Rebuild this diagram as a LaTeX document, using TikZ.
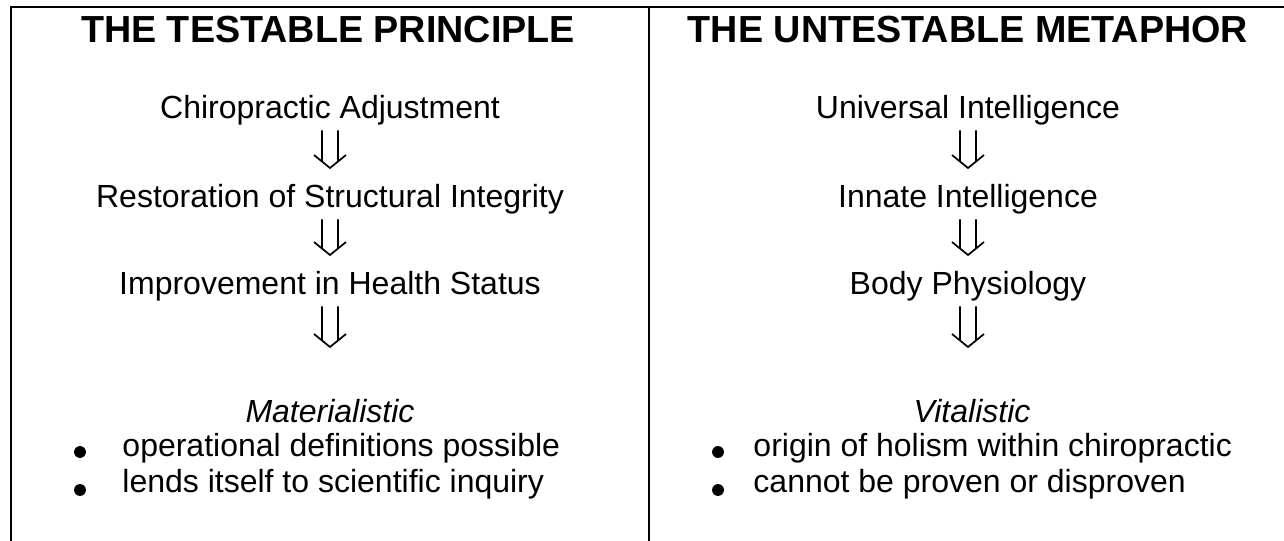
\documentclass[tikz,border=0pt]{standalone}
\usepackage{fontspec}
\setmainfont{Liberation Sans}
\usetikzlibrary{calc}

\begin{document}
\begin{tikzpicture}[x=0.4375pt, y=-0.4375pt,
  heading/.style = {anchor=base, inner sep=0pt, font=\fontsize{16.5}{19}\selectfont\bfseries},
  stage/.style = {anchor=base, inner sep=1.9pt, font=\fontsize{14}{16}\selectfont},
  kind/.style = {anchor=base, inner sep=0pt, font=\fontsize{14}{16}\selectfont\itshape},
  listitem/.style = {anchor=base west, inner sep=0pt, font=\fontsize{14}{16}\selectfont},
  bulletdot/.style = {circle, fill, inner sep=0pt, minimum size=5.2pt},
  frameline/.style = {line width=0.875pt},
  dblarrow/.style = {line width=0.75pt, to path={
    ($(\tikztostart)+(-8,0)$) -- ($(\tikztotarget)+(-8,-18.5)$)
    ($(\tikztostart)+(8,0)$) -- ($(\tikztotarget)+(8,-18.5)$)
    ($(\tikztotarget)+(-16,-25)$) -- ($(\tikztotarget)+(0,-12)$) -- ($(\tikztotarget)+(16,-25)$)}}
]
\useasboundingbox (0,0) rectangle (1284,541);
\draw[frameline] (10,7) -- (1284,7);
\draw[frameline] (11,6) -- (11,541);
\draw[frameline] (649,7) -- (649,541);

\node[heading] (testable) at (328,43) {THE TESTABLE PRINCIPLE};
\node[stage] (adjust) at (330,119) {Chiropractic Adjustment};
\node[stage] (restore) at (330,208) {Restoration of Structural Integrity};
\node[stage] (improve) at (330,295) {Improvement in Health Status};
\coordinate (leftend) at (330,359);
\node[kind] (material) at (330,422) {Materialistic};
\node[bulletdot] (ldot1) at (80,452) {};
\node[listitem] (opdef) at (122,457) {operational definitions possible};
\node[bulletdot] (ldot2) at (80,490) {};
\node[listitem] (inquiry) at (122,493) {lends itself to scientific inquiry};

\node[heading] (untestable) at (968,43) {THE UNTESTABLE METAPHOR};
\node[stage] (universal) at (968,119) {Universal Intelligence};
\node[stage] (innate) at (968,208) {Innate Intelligence};
\node[stage] (physio) at (968,295) {Body Physiology};
\coordinate (rightend) at (968,359);
\node[kind] (vital) at (972,422) {Vitalistic};
\node[bulletdot] (rdot1) at (718,452) {};
\node[listitem] (holism) at (753,457) {origin of holism within chiropractic};
\node[bulletdot] (rdot2) at (718,490) {};
\node[listitem] (proven) at (753,493) {cannot be proven or disproven};

\draw[dblarrow] (adjust.south) to (restore.north);
\draw[dblarrow] (restore.south) to (improve.north);
\draw[dblarrow] (improve.south) to (leftend);
\draw[dblarrow] (universal.south) to (innate.north);
\draw[dblarrow] (innate.south) to (physio.north);
\draw[dblarrow] (physio.south) to (rightend);
\end{tikzpicture}
\end{document}
